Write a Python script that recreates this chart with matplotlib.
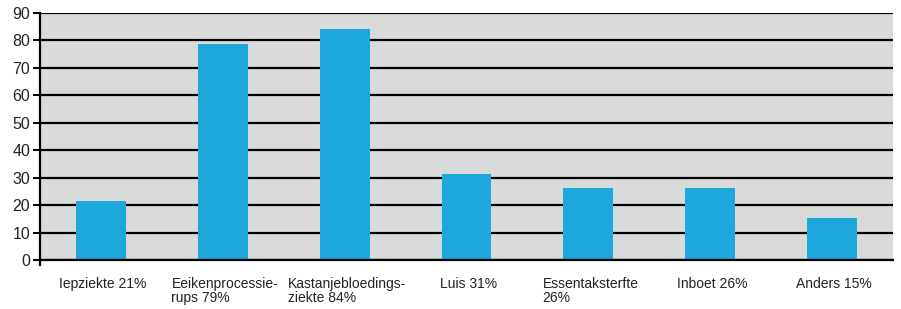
import matplotlib
matplotlib.use("Agg")
import matplotlib.pyplot as plt
from matplotlib.lines import Line2D

categories = ["Iepziekte 21%", "Eeikenprocessie-\nrups 79%", "Kastanjebloedings-\nziekte 84%",
              "Luis 31%", "Essentaksterfte\n26%", "Inboet 26%", "Anders 15%"]
values = [21.5, 78.7, 84.2, 31.5, 26.2, 26.2, 15.3]
yticks = list(range(0, 91, 10))

W, H = 901, 309
fig = plt.figure(figsize=(W / 100, H / 100), dpi=100)
ax = fig.add_axes([40 / W, (H - 260) / H, (893 - 40) / W, (260 - 13) / H])
ax.set_facecolor("#D9DADA")

x = list(range(len(categories)))
ax.bar(x, values, width=0.41, color="#1EA7DC", zorder=3)
ax.set_xlim(-0.5, len(categories) - 0.5)
ax.set_ylim(0, 90)
ax.set_yticks(yticks)
ax.yaxis.grid(True, color="black", linewidth=1.6, zorder=1)
ax.set_axisbelow(True)
ax.set_xticks([])
for s in ["top", "right"]:
    ax.spines[s].set_visible(False)
for s in ["left", "bottom"]:
    ax.spines[s].set_linewidth(1.6)
    ax.spines[s].set_zorder(4)
ax.tick_params(axis="y", length=5, width=1.4, labelsize=11.5, pad=2, colors="black")
for lab in ax.get_yticklabels():
    lab.set_color("#222222")
    lab.set_family("Liberation Sans")

# small extension of left spine below zero
ax.add_line(Line2D([-0.5, -0.5], [0, -2.0], color="black", linewidth=1.6, clip_on=False, zorder=5))

for xi, lab in zip(x, categories):
    ax.annotate(lab, xy=(xi, 0), xycoords="data", xytext=(1.5, -12), textcoords="offset points",
                ha="center", va="top", multialignment="left", fontsize=10, color="#222222",
                family="Liberation Sans", linespacing=1.05)

fig.savefig("out.png", dpi=100, facecolor="white")
